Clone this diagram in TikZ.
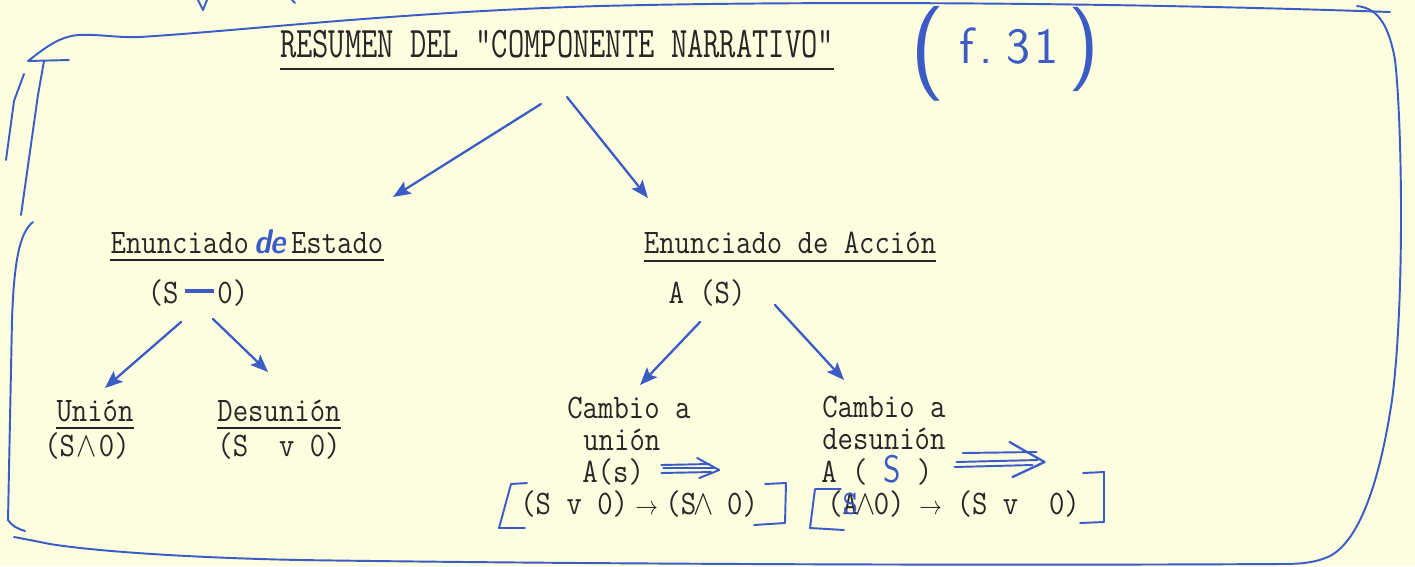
\documentclass[tikz,border=0pt]{standalone}
\usepackage{graphicx}
\usetikzlibrary{arrows.meta}
\definecolor{paper}{HTML}{FDFDE0}
\definecolor{pen}{HTML}{3B5CC4}
\definecolor{ink}{HTML}{262626}
\begin{document}
\begin{tikzpicture}[x=0.02cm,y=-0.02cm,
  tw/.style={inner sep=0pt, text=ink, font=\fontsize{17}{20}\selectfont\ttfamily, transform shape, yscale=1.15},
  ul/.style={draw=ink, line width=0.8pt},
  penline/.style={draw=pen, line width=1.1pt, line cap=round, line join=round},
  arr/.style={penline, line width=1.3pt, -{Stealth[length=10pt,width=8pt,inset=2pt]}},
  ]
\fill[paper] (0,0) rectangle (1415,566);
\useasboundingbox (0,0) rectangle (1415,566);

% ---- typed texts ----
\node[tw, font=\fontsize{18}{20}\selectfont\ttfamily, yscale=1.2, anchor=base] (t) at (557,57) {RESUMEN DEL "COMPONENTE NARRATIVO"};
\draw[ul] ([shift={(0,12)}]t.base west) -- ([shift={(0,12)}]t.base east);

\node[tw, anchor=base] (e) at (247,253) {Enunciado\textcolor{pen}{\sffamily\bfseries\slshape\,de\,}Estado};
\draw[ul] ([shift={(0,7)}]e.base west) -- ([shift={(0,7)}]e.base east);
\node[tw, anchor=base] (ea) at (198,303) {(S\hspace{0.2em}\textcolor{pen}{\rule[0.3em]{1em}{1.6pt}}\hspace{0.1em}0)};

\node[tw, anchor=base] (a) at (790,253) {Enunciado de Acción};
\draw[ul] ([shift={(0,8)}]a.base west) -- ([shift={(0,8)}]a.base east);
\node[tw, anchor=base] (as) at (707,303) {A (S)};

\node[tw, anchor=base] (u) at (95,421) {Unión};
\draw[ul] ([shift={(0,7)}]u.base west) -- ([shift={(0,7)}]u.base east);
\node[tw, anchor=base] (us) at (87,456) {(S\makebox[0.8em]{$\wedge$}0)};

\node[tw, anchor=base] (d) at (279,421) {Desunión};
\draw[ul] ([shift={(0,7)}]d.base west) -- ([shift={(0,7)}]d.base east);
\node[tw, anchor=base] (ds) at (279,456) {(S\ \ v 0)};

\node[tw, anchor=base west] (c1a) at (567,418) {Cambio a};
\node[tw, anchor=base west] (c1b) at (583,450) {unión};
\node[tw, anchor=base west] (c1c) at (582,482) {A(s)};
\node[tw, anchor=base west] (b1) at (520,514) {(S v 0)\makebox[1.25em]{\scalebox{0.75}{$\rightarrow$}}(S\makebox[0.525em]{$\wedge$}\ 0)};

\node[tw, anchor=base west] (c2a) at (822,417) {Cambio a};
\node[tw, anchor=base west] (c2b) at (822,449) {desunión};
\node[tw, anchor=base west] (c2c) at (821,482) {A (\makebox[1.65em]{\textcolor{pen}{\sffamily\fontsize{19}{19}\selectfont S}})};
\node[tw, anchor=base west] (b2) at (827,514) {(\rlap{A}\textcolor{pen}{S}\makebox[0.525em]{$\wedge$}0)\makebox[1.75em]{\scalebox{0.75}{$\rightarrow$}}(S v\ \ 0)};

% ---- handwritten reference ----
\node[inner sep=0pt, text=pen, anchor=base, font=\sffamily] (ref) at (1005,63)
  {\raisebox{-8pt}{\fontsize{54}{54}\selectfont(}\hspace{8pt}\fontsize{29}{29}\selectfont f\hspace{3pt}.\hspace{8pt}3\hspace{2pt}1\hspace{6pt}\raisebox{-4pt}{\fontsize{48}{48}\selectfont)}};

% ---- arrows ----
\draw[arr] ([shift={(-16,47)}]t.base) -- ([shift={(146,-56)}]e.base);
\draw[arr] ([shift={(10,40)}]t.base) -- ([shift={(-142,-55)}]a.base);
\draw[arr] ([shift={(-17,19)}]ea.base) -- ([shift={(10,-33)}]u.base);
\draw[arr] ([shift={(15,16)}]ea.base) -- ([shift={(-11,-49)}]d.base);
\draw[arr] ([shift={(-7,19)}]as.base) -- ([shift={(73,-33)}]c1a.base west);
\draw[arr] ([shift={(68,2)}]as.base) -- ([shift={(22,-37)}]c2a.base west);

% ---- triple arrows ----
\coordinate (da1) at ([shift={(17,-17)}]c1c.base east);
\draw[penline] (da1) -- ++(48,-1);
\draw[penline] ([shift={(2,3)}]da1) -- ++(52,0);
\draw[penline] ([shift={(0,8)}]da1) -- ++(50,-1);
\draw[penline] ([shift={(36,-7)}]da1) -- ([shift={(58,5)}]da1) -- ([shift={(38,13)}]da1);

\coordinate (da2) at ([shift={(22,-20)}]c2c.base east);
\draw[penline] ([shift={(8,-9)}]da2) -- ++(74,-1);
\draw[penline] ([shift={(2,0)}]da2) -- ++(81,-2);
\draw[penline] ([shift={(0,5)}]da2) -- ++(78,-2);
\draw[penline, line width=1.3pt] ([shift={(55,-20)}]da2) -- ([shift={(90,0)}]da2) -- ([shift={(58,15)}]da2);

% ---- brackets ----
\draw[penline] (527,483) -- (511,484) -- (499,528) -- (525,528);
\draw[penline] (765,484) -- (786,483) -- (785,523) -- (754,525);
\draw[penline] (841,489) -- (815,489) -- (810,528) -- (844,530);
\draw[penline] (1083,473) -- (1104,472) -- (1104,522) -- (1080,523);

% ---- frame ----
\draw[penline] (69,60) -- (28,61) .. controls (45,48) and (58,37) .. (78,35)
  .. controls (100,34) and (118,38) .. (140,37)
  .. controls (250,30) and (400,12) .. (600,6)
  .. controls (800,1) and (1100,2) .. (1390,12);
\draw[penline] (1357,6) .. controls (1375,8) and (1388,20) .. (1395,60)
  .. controls (1402,120) and (1405,300) .. (1392,400)
  .. controls (1380,480) and (1360,540) .. (1330,556)
  .. controls (1315,563) and (1300,564) .. (1280,564)
  .. controls (900,566) and (500,563) .. (300,560)
  .. controls (200,558) and (100,552) .. (50,544)
  .. controls (35,541) and (20,538) .. (14,537);
\draw[penline] (33,222) .. controls (20,232) and (14,260) .. (12,320) -- (8,520)
  .. controls (12,526) and (18,529) .. (25,531);
\draw[penline] (44,61) -- (38,95) -- (21,215);
\draw[penline] (24,74) -- (14,101) -- (6,160);
% cut-off marks at top
\draw[penline] (198,0) -- (203,10) -- (207,0);
\draw[penline] (292,0) -- (295,3);
\end{tikzpicture}
\end{document}
